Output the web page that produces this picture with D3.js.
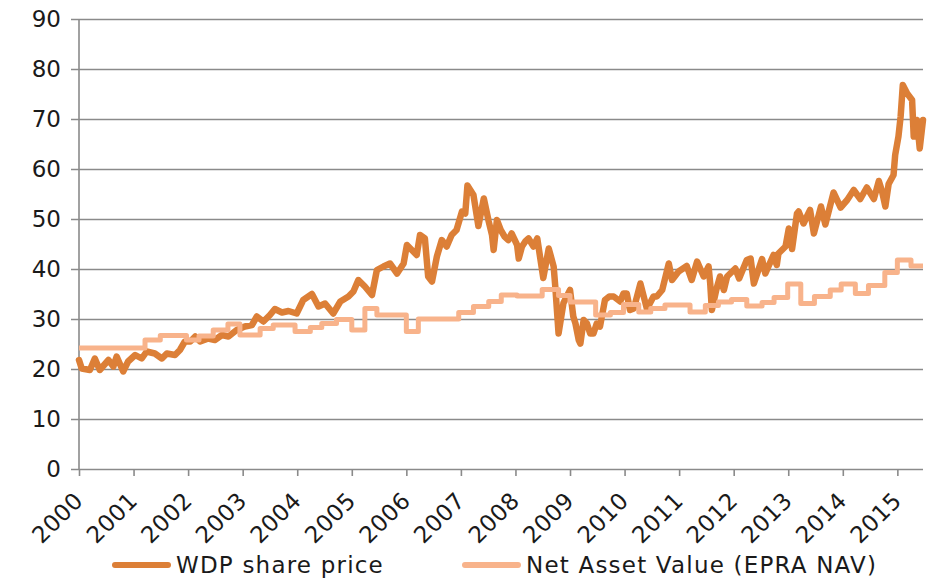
<!DOCTYPE html>
<html>
<head>
<meta charset="utf-8">
<script src="https://cdn.jsdelivr.net/npm/d3@7"></script>
<style>
  body { margin: 0; background: #fff; }
  text { font-family: "DejaVu Sans", sans-serif; fill: #1a1a1a; }
</style>
</head>
<body>
<div id="chart"></div>
<script>
// x ticks (years) and y ticks
var yearTicks = d3.range(2000, 2016);
var valueTicks = d3.range(0, 100, 10);

// WDP share price (decimal year, EUR)
var priceYears = [
  2000.00, 2000.05, 2000.20, 2000.29, 2000.38, 2000.54, 2000.63, 2000.69, 2000.81, 2000.90,
  2001.03, 2001.15, 2001.24, 2001.39, 2001.52, 2001.61, 2001.76, 2001.85, 2001.94, 2002.04,
  2002.13, 2002.22, 2002.37, 2002.49, 2002.62, 2002.74, 2002.89, 2003.04, 2003.17, 2003.26,
  2003.38, 2003.50, 2003.59, 2003.72, 2003.84, 2003.99, 2004.11, 2004.27, 2004.39, 2004.51,
  2004.66, 2004.79, 2004.94, 2005.03, 2005.12, 2005.24, 2005.37, 2005.46, 2005.58, 2005.70,
  2005.83, 2005.95, 2006.01, 2006.10, 2006.19, 2006.25, 2006.34, 2006.40, 2006.47, 2006.56,
  2006.65, 2006.74, 2006.83, 2006.92, 2007.02, 2007.08, 2007.12, 2007.23, 2007.32, 2007.42,
  2007.51, 2007.57, 2007.60, 2007.66, 2007.73, 2007.80, 2007.87, 2007.93, 2008.00, 2008.03,
  2008.06, 2008.12, 2008.18, 2008.24, 2008.33, 2008.40, 2008.45, 2008.51, 2008.61, 2008.70,
  2008.73, 2008.79, 2008.88, 2009.00, 2009.06, 2009.10, 2009.16, 2009.19, 2009.25, 2009.31,
  2009.37, 2009.43, 2009.49, 2009.55, 2009.64, 2009.72, 2009.80, 2009.92, 2009.98, 2010.04,
  2010.10, 2010.17, 2010.29, 2010.41, 2010.53, 2010.59, 2010.69, 2010.81, 2010.87, 2010.99,
  2011.14, 2011.23, 2011.33, 2011.45, 2011.54, 2011.57, 2011.60, 2011.68, 2011.75, 2011.82,
  2011.88, 2012.03, 2012.10, 2012.24, 2012.31, 2012.37, 2012.52, 2012.58, 2012.73, 2012.79,
  2012.82, 2012.95, 2013.01, 2013.07, 2013.16, 2013.19, 2013.28, 2013.40, 2013.47, 2013.60,
  2013.68, 2013.83, 2013.96, 2014.08, 2014.20, 2014.32, 2014.44, 2014.57, 2014.66, 2014.72,
  2014.78, 2014.84, 2014.93, 2014.96, 2015.02, 2015.06, 2015.10, 2015.18, 2015.27, 2015.30,
  2015.36, 2015.41, 2015.47
];
var priceValues = [
  21.8, 20.1, 19.8, 22.1, 19.8, 21.8, 20.5, 22.5, 19.5, 21.5,
  22.8, 22.1, 23.5, 23.1, 22.1, 23.1, 22.8, 23.8, 25.5, 25.5,
  26.5, 25.5, 26.1, 25.8, 26.8, 26.5, 27.8, 28.5, 28.8, 30.5,
  29.5, 30.8, 32.0, 31.3, 31.6, 31.1, 33.8, 35.0, 32.5, 33.1,
  31.1, 33.5, 34.5, 35.5, 37.8, 36.5, 34.8, 39.8, 40.5, 41.1,
  39.1, 41.1, 44.8, 43.8, 42.8, 46.8, 46.1, 38.5, 37.5, 42.5,
  45.8, 44.5, 46.8, 47.8, 51.5, 51.1, 56.7, 54.8, 48.6, 54.1,
  49.5, 46.8, 43.8, 49.8, 47.8, 46.5, 45.8, 47.1, 45.5, 44.8,
  42.1, 44.5, 45.5, 46.1, 44.5, 46.1, 42.5, 38.2, 44.1, 40.5,
  36.5, 27.1, 33.2, 35.8, 30.5, 29.1, 25.8, 25.1, 29.8, 29.1,
  27.1, 27.1, 29.1, 28.5, 33.8, 34.5, 34.5, 33.5, 35.1, 35.1,
  31.8, 32.1, 37.1, 32.0, 34.5, 34.5, 35.8, 41.1, 37.8, 39.5,
  40.6, 37.8, 41.5, 38.5, 40.5, 37.1, 31.8, 35.8, 38.5, 35.8,
  38.5, 40.1, 38.1, 41.8, 42.1, 37.1, 42.0, 39.1, 42.8, 40.8,
  43.1, 44.5, 48.1, 44.0, 51.1, 51.5, 49.1, 51.8, 47.1, 52.5,
  48.9, 55.3, 52.3, 53.8, 55.8, 54.0, 56.3, 54.0, 57.6, 55.5,
  52.5, 57.0, 58.8, 62.8, 66.5, 70.5, 76.8, 75.1, 73.8, 66.5,
  69.8, 64.1, 69.8
];

// Net Asset Value (EPRA NAV), a step series: value holds from each date to the next
var navYears = [
  2000.00, 2001.21, 2001.49, 2001.97, 2002.20, 2002.46, 2002.73, 2002.95, 2003.32, 2003.56,
  2003.96, 2004.24, 2004.45, 2004.72, 2005.00, 2005.24, 2005.46, 2006.00, 2006.22, 2006.96,
  2007.23, 2007.51, 2007.74, 2008.03, 2008.49, 2008.79, 2009.00, 2009.47, 2009.74, 2009.98,
  2010.26, 2010.48, 2010.74, 2011.20, 2011.48, 2011.72, 2011.96, 2012.24, 2012.52, 2012.74,
  2012.99, 2013.23, 2013.48, 2013.77, 2013.97, 2014.23, 2014.47, 2014.77, 2015.00, 2015.25,
  2015.47
];
var navValues = [
  24.2, 25.8, 26.7, 25.8, 26.6, 27.8, 29.0, 26.8, 28.1, 28.8,
  27.5, 28.3, 29.1, 29.9, 27.8, 32.1, 30.8, 27.5, 30.0, 31.3,
  32.5, 33.5, 34.8, 34.6, 35.9, 34.7, 33.4, 30.8, 31.3, 32.9,
  31.4, 32.1, 32.8, 31.4, 32.7, 33.4, 33.9, 32.6, 33.3, 34.3,
  37.0, 33.1, 34.5, 35.8, 37.0, 35.1, 36.7, 39.3, 41.8, 40.6,
  40.6
];

var seriesNames = ["WDP share price", "Net Asset Value (EPRA NAV)"];
var seriesColors = ["#dc7f37", "#f8b38b"];

var W = 931, H = 585;
var margin = {top: 19, right: 8, bottom: 116, left: 79};
var width = W - margin.left - margin.right,
    height = H - margin.top - margin.bottom;

var svg = d3.select("#chart").append("svg")
  .attr("width", W)
  .attr("height", H)
  .append("g")
  .attr("transform", "translate(" + margin.left + "," + margin.top + ")");

var x = d3.scaleLinear().domain([2000, 2015.47]).range([0, width]);
var y = d3.scaleLinear().domain([0, 90]).range([height, 0]);

// Y axis with gridlines running across
var yAxis = svg.append("g")
  .call(d3.axisLeft(y).tickValues(valueTicks).tickSize(-width).tickPadding(18).tickFormat(d3.format("d")));
yAxis.select(".domain").remove();
yAxis.selectAll(".tick line")
  .attr("x1", -8)
  .attr("stroke", "#8a8a8a")
  .attr("stroke-width", 1.6);
yAxis.selectAll(".tick text")
  .style("font-size", "23px")
  .attr("fill", "#1a1a1a");

// vertical axis line
svg.append("line")
  .attr("x1", 0).attr("x2", 0)
  .attr("y1", 0).attr("y2", height)
  .attr("stroke", "#8a8a8a")
  .attr("stroke-width", 1.6);

// X axis
var xAxis = svg.append("g")
  .attr("transform", "translate(0," + height + ")")
  .call(d3.axisBottom(x).tickValues(yearTicks).tickSize(7).tickFormat(d3.format("d")));
xAxis.select(".domain").remove();
xAxis.selectAll(".tick line")
  .attr("stroke", "#8a8a8a")
  .attr("stroke-width", 1.6);
xAxis.selectAll(".tick text")
  .attr("x", 0).attr("y", 0).attr("dy", null)
  .attr("text-anchor", "end")
  .attr("transform", "translate(5,33) rotate(-45)")
  .style("font-size", "23px")
  .style("letter-spacing", "0.5px")
  .attr("fill", "#1a1a1a");

// lines
var priceData = priceYears.map(function(t, i) { return {t: t, v: priceValues[i]}; });
var navData = navYears.map(function(t, i) { return {t: t, v: navValues[i]}; });

var line = d3.line()
  .x(function(d) { return x(d.t); })
  .y(function(d) { return y(d.v); });

var stepLine = d3.line()
  .curve(d3.curveStepAfter)
  .x(function(d) { return x(d.t); })
  .y(function(d) { return y(d.v); });

svg.append("path")
  .datum(priceData)
  .attr("d", line)
  .attr("fill", "none")
  .attr("stroke", seriesColors[0])
  .attr("stroke-width", 6.5)
  .attr("stroke-linejoin", "round")
  .attr("stroke-linecap", "round");

svg.append("path")
  .datum(navData)
  .attr("d", stepLine)
  .attr("fill", "none")
  .attr("stroke", seriesColors[1])
  .attr("stroke-width", 5)
  .attr("stroke-linejoin", "round");

// legend
var legendX = [115, 465];
var legend = d3.select("svg").selectAll("g.legend")
  .data(seriesNames)
  .enter()
  .append("g")
  .attr("class", "legend")
  .attr("transform", function(d, i) { return "translate(" + legendX[i] + ",565)"; });

legend.append("line")
  .attr("x1", 0).attr("x2", 53)
  .attr("stroke", function(d, i) { return seriesColors[i]; })
  .attr("stroke-width", 6)
  .attr("stroke-linecap", "round");

legend.append("text")
  .attr("x", 61)
  .attr("dy", "0.36em")
  .style("font-size", "23px")
  .style("letter-spacing", "1.2px")
  .text(function(d) { return d; });
</script>
</body>
</html>
